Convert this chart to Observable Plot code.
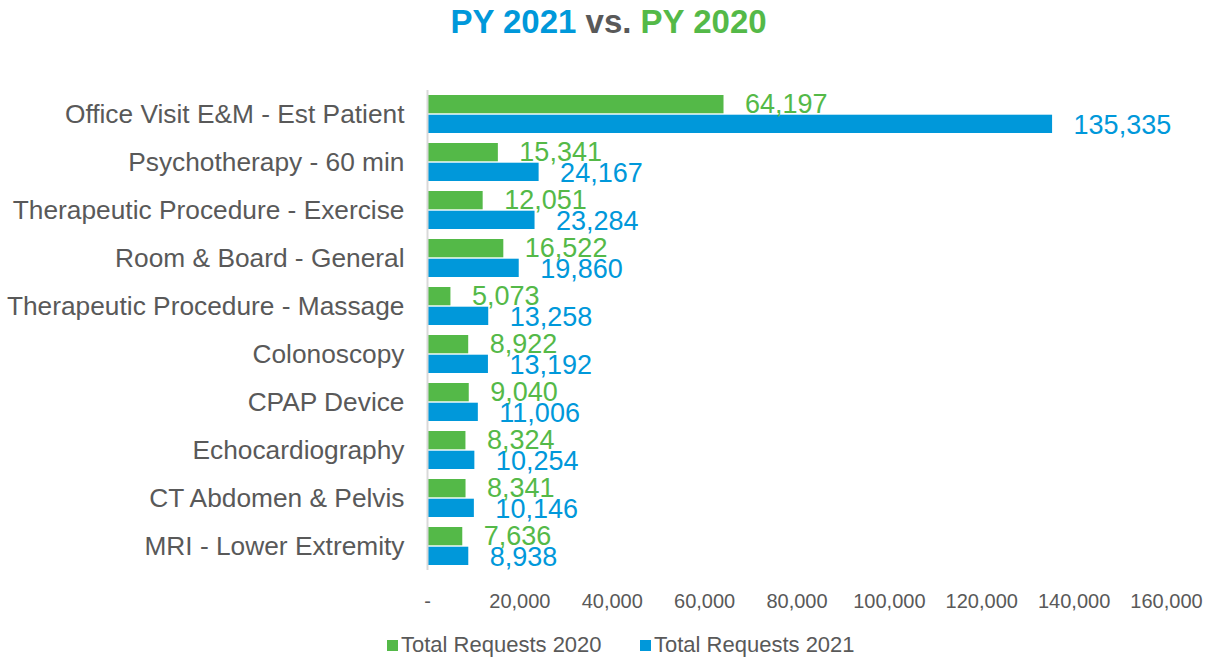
<!DOCTYPE html>
<html><head><meta charset="utf-8">
<script src="https://cdn.jsdelivr.net/npm/d3@7"></script>
<script src="https://cdn.jsdelivr.net/npm/@observablehq/plot@0.6"></script>
<style>
html,body{margin:0;padding:0;background:#fff;}
body{width:1217px;height:658px;position:relative;overflow:hidden;font-family:"Liberation Sans",Arial,sans-serif;}
#title{height:44px;line-height:44px;text-align:center;font-size:33px;font-weight:bold;}
#chart{position:absolute;top:44px;left:0;}
.leg{position:absolute;top:633px;font-size:22px;color:#595959;line-height:24px;white-space:nowrap;}
.sw{display:inline-block;width:11px;height:11px;margin-right:3px;vertical-align:1px;}
</style></head><body>
<div id="title"><span style="color:#0098da">PY 2021</span> <span style="color:#595959">vs.</span> <span style="color:#54b948">PY 2020</span></div>
<div id="chart"></div>
<div class="leg" style="left:387px"><span class="sw" style="background:#54b948"></span>Total Requests 2020</div>
<div class="leg" style="left:640px"><span class="sw" style="background:#0098da"></span>Total Requests 2021</div>
<script>
const categories = [
  "Office Visit E&M - Est Patient",
  "Psychotherapy - 60 min",
  "Therapeutic Procedure - Exercise",
  "Room & Board - General",
  "Therapeutic Procedure - Massage",
  "Colonoscopy",
  "CPAP Device",
  "Echocardiography",
  "CT Abdomen & Pelvis",
  "MRI - Lower Extremity"
];
const requests2020 = [64197, 15341, 12051, 16522, 5073, 8922, 9040, 8324, 8341, 7636];
const requests2021 = [135335, 24167, 23284, 19860, 13258, 13192, 11006, 10254, 10146, 8938];
const xTicks = [0, 20000, 40000, 60000, 80000, 100000, 120000, 140000, 160000];

const green = "#54b948", blue = "#0098da";
const data = categories.map((c, i) => ({category: c, v2020: requests2020[i], v2021: requests2021[i]}));
const fmt = d3.format(",");
const tickFmt = d => d === 0 ? "-" : fmt(d);

const chart = Plot.plot({
  width: 1217, height: 580,
  marginLeft: 427, marginRight: 51, marginTop: 46, marginBottom: 54,
  style: {fontFamily: "'Liberation Sans', Arial, sans-serif", color: "#595959", background: "#fff"},
  x: {domain: [0, 160000]},
  y: {domain: categories, paddingInner: 0.2, paddingOuter: 0.1},
  marks: [
    Plot.axisX({ticks: xTicks, tickFormat: tickFmt, tickSize: 0, tickPadding: 23, fontSize: 20, label: null}),
    Plot.axisY({tickSize: 0, tickPadding: 23, fontSize: 26.3, label: null}),
    Plot.barX(data, {x: "v2020", y: "category", fill: green, insetBottom: 19.7}),
    Plot.barX(data, {x: "v2021", y: "category", fill: blue, insetTop: 19.7}),
    Plot.ruleX([0], {stroke: "#d9d9d9", strokeWidth: 2}),
    Plot.text(data, {x: "v2020", y: "category", text: d => fmt(d.v2020), dx: 21, dy: -10, textAnchor: "start", fill: green, fontSize: 27}),
    Plot.text(data, {x: "v2021", y: "category", text: d => fmt(d.v2021), dx: 21, dy: 11, textAnchor: "start", fill: blue, fontSize: 27})
  ]
});
document.getElementById("chart").appendChild(chart);
</script>
</body></html>
